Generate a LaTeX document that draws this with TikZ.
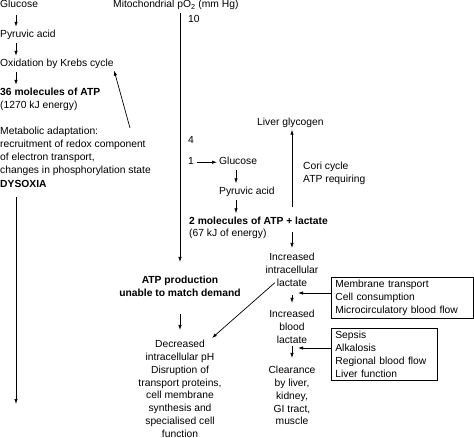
\documentclass[tikz,border=0pt]{standalone}
\usepackage{fontspec}
\setmainfont{Liberation Sans}
\usetikzlibrary{positioning,calc,arrows.meta}
\tikzset{
	txt/.style={inner sep=0pt, font=\fontsize{10.3}{12.8}\selectfont},
	one/.style={txt, anchor=base west, text height=7.5pt, text depth=2pt},
	stack/.style={txt, align=center, anchor=north},
	bf/.style={font=\fontsize{10.3}{12.8}\selectfont\bfseries},
	box/.style={txt, draw, line width=0.7pt, inner xsep=4pt, inner ysep=3pt, anchor=north west, align=left},
	arr/.style={line width=0.7pt, -{Latex[length=5pt,width=3.4pt]}},
}
\begin{document}
\begin{tikzpicture}[x=1pt, y=-1pt]
	\useasboundingbox (0,0) rectangle (474,438);
	
	\coordinate (lx) at (16,0);
	\coordinate (cx) at (180,0);
	\coordinate (mx) at (236,0);
	\coordinate (rx) at (292,0);
	
	\node[one] (g1) at (0,8) {Glucose};
	\node[one] (p1) at (0,38) {Pyruvic acid};
	\node[one] (k1) at (0,67) {Oxidation by Krebs cycle};
	\node[one, bf] (a1) at (0,96) {36 molecules of ATP};
	\node[one] (e1) at (0,109) {(1270 kJ energy)};
	\node[txt, align=left, anchor=north west] (m1) at (0,127) {Metabolic adaptation:\\recruitment of redox component\\of electron transport,\\changes in phosphorylation state};
	\node[one, bf] (d1) at (0,188) {DYSOXIA};
	
	\node[one] (mt) at (113,8) {Mitochondrial pO\textsubscript{2} (mm Hg)};
	\node[one] (n10) at (188,23) {10};
	\node[one] (n4) at (188,144) {4};
	\node[one] (n1) at (188,165) {1};
	\node[one] (g2) at (219,165) {Glucose};
	\node[one] (p2) at (219,195) {Pyruvic acid};
	\node[one, bf] (a2) at (189,225) {2 molecules of ATP + lactate};
	\node[one] (e2) at (189,237) {(67 kJ of energy)};
	\node[one] (lg) at (257,126) {Liver glycogen};
	\node[txt, align=left, anchor=north west] (cc) at (303,162) {Cori cycle\\ATP requiring};
	
	\node[stack, bf] (ap) at (180,276) {ATP production\\unable to match demand};
	\node[stack] (dp) at (180,340) {Decreased\\intracellular pH\\Disruption of\\transport proteins,\\cell membrane\\synthesis and\\specialised cell\\function};
	\node[stack] (il) at (292,253) {Increased\\intracellular\\lactate};
	\node[stack] (ib) at (292,310) {Increased\\blood\\lactate};
	\node[stack] (cl) at (292,366) {Clearance\\by liver,\\kidney,\\GI tract,\\muscle};
	
	\node[box, text width=134pt] (b1) at (331,277) {Membrane transport\\Cell consumption\\Microcirculatory blood flow};
	\node[box, text width=98pt, below=9pt of b1.south west, anchor=north west] (b2) {Sepsis\\Alkalosis\\Regional blood flow\\Liver function};
	
	\coordinate (lend) at (16,404);
	\coordinate (t1) at (298,293);
	\coordinate (t2) at (298,348);
	
	\draw[arr, shorten <=5pt, shorten >=3.5pt] (lx |- g1.south) -- (lx |- p1.north);
	\draw[arr, shorten <=3pt, shorten >=3.5pt] (lx |- p1.south) -- (lx |- k1.north);
	\draw[arr, shorten <=3pt, shorten >=3.5pt] (lx |- k1.south) -- (lx |- a1.north);
	\draw[arr, shorten >=1.5pt] ($(m1.north west)+(130,1)$) -- (k1.south east);
	\draw[arr, shorten <=7pt] (lx |- d1.south) -- (lend);
	
	\draw[arr, shorten <=3pt, shorten >=14pt] (cx |- mt.south) -- (cx |- ap.north);
	\draw[arr, shorten <=3pt, shorten >=2pt] (n1.east) -- (g2.west);
	\draw[arr, shorten <=3pt, shorten >=4pt] (mx |- g2.south) -- (mx |- p2.north);
	\draw[arr, shorten <=3pt, shorten >=4pt] (mx |- p2.south) -- (mx |- a2.north);
	\draw[arr, shorten <=10pt, shorten >=1.5pt] (rx |- a2.north) -- (rx |- lg.south);
	\draw[arr, shorten <=5pt, shorten >=5pt] (rx |- a2.south) -- (rx |- il.north);
	\draw[arr, shorten <=8pt, shorten >=7pt] (rx |- il.south) -- (rx |- ib.north);
	\draw[arr, shorten <=2pt, shorten >=8pt] (rx |- ib.south) -- (rx |- cl.north);
	\draw[arr, shorten <=17pt, shorten >=10pt] (ap.south) -- (dp.north);
	\draw[arr] ($(il.south)+(-17,-4)$) -- ($(dp.north)+(32,-2)$);
	\draw[arr] (b1.west |- t1) -- (t1);
	\draw[arr] (b2.west |- t2) -- (t2);
\end{tikzpicture}
\end{document}
